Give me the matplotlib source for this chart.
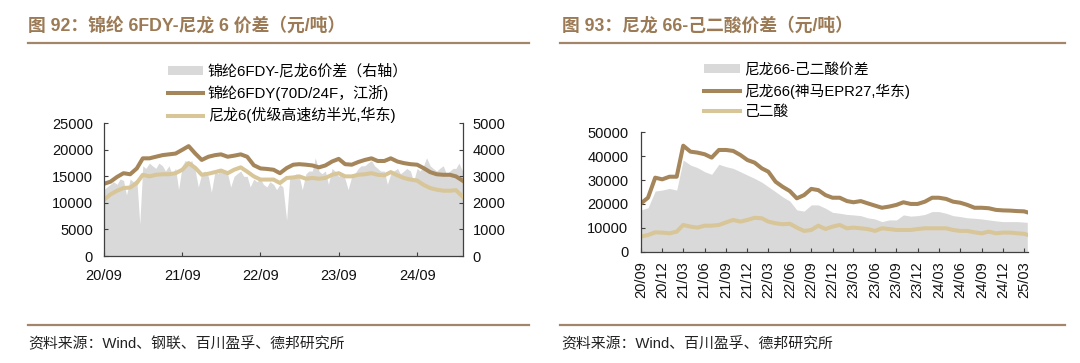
import matplotlib
matplotlib.use("Agg")
import matplotlib.pyplot as plt
import matplotlib.dates as mdates
from matplotlib.lines import Line2D
from matplotlib.patches import Patch
import pandas as pd

plt.rcParams['font.family'] = ['Liberation Sans', 'Noto Sans CJK SC']
plt.rcParams['axes.unicode_minus'] = False

# ---------------- data: left chart (monthly from 2020-09) ----------------
left_dates = pd.date_range('2020-09-01', periods=56, freq='MS')
fdy6 = [13600, 14000, 14900, 15600, 15400, 16500, 18400, 18400, 18700, 19000,
        19150, 19300, 20000, 20700, 19300, 18100, 18700, 19000, 19150, 18700,
        18900, 19150, 18700, 17100, 16500, 16400, 16250, 15600, 16560, 17200,
        17300, 17200, 17060, 16700, 17060, 17800, 18300, 17300, 17200, 17700,
        18100, 18400, 17900, 17900, 18400, 17800, 17500, 17300, 17200, 16560,
        15800, 15400, 15300, 15300, 15000, 14200]
nylon6 = [10600, 11600, 12300, 12800, 12900, 13750, 15300, 15000, 15300, 15400,
          15400, 15600, 16250, 17500, 16600, 15300, 15500, 15800, 16100, 15600,
          16250, 16700, 15900, 15000, 14400, 14400, 14400, 13750, 14700, 14800,
          15000, 14560, 14700, 14560, 14700, 15300, 15600, 15000, 15000, 15300,
          15400, 15600, 15300, 15200, 15800, 15200, 14700, 14400, 14200, 13400,
          12800, 12500, 12300, 12300, 12400, 11200]
# spread (right axis), semi-monthly
spread_dates = pd.date_range('2020-09-01', periods=112, freq='SMS')
spread6 = [2500, 2600, 2700, 2800, 2700, 2900, 2850, 2300, 2900, 2800,
           2900, 1200, 3400, 3300, 3500, 3400, 3300, 3500, 3400, 3200,
           3400, 3100, 3300, 2500, 3400, 3600, 3500, 3600, 3200, 2600,
           3100, 3200, 3000, 2400, 3200, 3100, 3300, 3200, 3100, 2600,
           3000, 3100, 3200, 3000, 3000, 2600, 2900, 2800, 2900, 2700,
           2600, 2800, 2700, 2500, 2700, 2600, 1350, 2900, 3000, 3100,
           3000, 2500, 3100, 3200, 3200, 3700, 3200, 3100, 3200, 2700,
           3300, 3200, 3000, 3100, 2900, 2500, 3000, 3100, 3300, 3400,
           3400, 3500, 3600, 3400, 3300, 3200, 3200, 2700, 3100, 3200,
           3300, 3100, 3200, 3300, 3200, 2800, 3300, 3200, 3400, 3700,
           3400, 3300, 3200, 3300, 3400, 3100, 3200, 3300, 3300, 3500,
           3200, 3100]
left_xticks = ['2020-09-01', '2021-09-01', '2022-09-01', '2023-09-01', '2024-09-01']

# ---------------- data: right chart (monthly from 2020-09) ----------------
right_dates = list(pd.date_range('2020-09-01', '2025-03-01', freq='MS')) + [pd.Timestamp('2025-03-15')]
nylon66 = [20250, 22600, 31000, 30300, 31400, 31400, 44400, 41900, 41500, 40800,
           39400, 42600, 42600, 42200, 40500, 38400, 37300, 34900, 33500, 29300,
           27200, 25400, 22350, 23700, 26300, 25800, 23700, 22600, 22600, 21200,
           20700, 21200, 20250, 19300, 18400, 18900, 19600, 20700, 20000, 20000,
           20950, 22600, 22600, 22100, 20950, 20500, 19600, 18400, 18400, 18200,
           17500, 17300, 17200, 17000, 16900, 16500]
adipic = [6300, 7000, 8100, 8000, 7700, 8400, 11200, 10500, 10100, 10900,
          10900, 11200, 12300, 13300, 12600, 13300, 14200, 14000, 12600, 11900,
          11500, 11700, 10100, 8700, 9100, 10900, 9500, 10500, 11200, 9800,
          10100, 9800, 9500, 8700, 9800, 9500, 9100, 9100, 9100, 9500,
          9800, 9800, 9800, 9800, 9100, 8700, 8700, 8100, 7700, 8400,
          7700, 8000, 8000, 7700, 7500, 7100]
spread66 = [17500, 18400, 25400, 25800, 26500, 25800, 38400, 36300, 35200, 33500,
            32400, 36600, 35600, 34900, 33500, 32100, 30700, 29100, 27200, 25100,
            23000, 21200, 17500, 17000, 19600, 19600, 18200, 16500, 16100, 15600,
            15400, 15100, 14200, 13700, 12600, 13300, 13300, 15400, 14900, 15100,
            15600, 16800, 16800, 16100, 15100, 14700, 14200, 14000, 13700, 13300,
            12900, 12600, 12600, 12600, 12400, 12300]

# ---------------- texts ----------------
title_left = '图 92：锦纶 6FDY-尼龙 6 价差（元/吨）'
title_right = '图 93：尼龙 66-己二酸价差（元/吨）'
leg_left = ['锦纶6FDY-尼龙6价差（右轴）', '锦纶6FDY(70D/24F，江浙)', '尼龙6(优级高速纺半光,华东)']
leg_right = ['尼龙66-己二酸价差', '尼龙66(神马EPR27,华东)', '己二酸']
src_left = '资料来源：Wind、钢联、百川盈孚、德邦研究所'
src_right = '资料来源：Wind、百川盈孚、德邦研究所'

# ---------------- style ----------------
C_DARK = '#a5855a'
C_LIGHT = '#d8c698'
C_GRAY = '#d9d9d9'
C_TITLE = '#9b7a55'
C_RULE = '#a3866a'
C_TXT = '#111111'
LW = 2.9

W, H = 1080, 363
fig = plt.figure(figsize=(W / 100, H / 100), dpi=100)

def fx(px):
    return px / W

def fy(py):
    return 1 - py / H

# titles, rules, sources
for x0, x1, xt, title, src in [(27.7, 529, 28.5, title_left, src_left),
                               (560, 1065, 562, title_right, src_right)]:
    fig.text(fx(xt), fy(26), title, fontsize=12.8, fontweight='bold', color=C_TITLE,
             va='center', ha='left')
    fig.add_artist(Line2D([fx(x0), fx(x1)], [fy(42.5), fy(42.5)], color=C_RULE, lw=1.6))
    fig.add_artist(Line2D([fx(x0), fx(x1)], [fy(324.5), fy(324.5)], color=C_RULE, lw=1.6))
    fig.text(fx(x0 + 0.8), fy(344), src, fontsize=10.7, color='#222222', va='center', ha='left')

# ---------------- left chart ----------------
axl = fig.add_axes([fx(104), fy(256), fx(463 - 104), (256 - 123.3) / H])
axr = axl.twinx()
axr.fill_between(spread_dates, 0, spread6, color=C_GRAY, lw=0)
axl.plot(left_dates, fdy6, color=C_DARK, lw=LW, solid_joinstyle='round')
axl.plot(left_dates, nylon6, color=C_LIGHT, lw=LW, solid_joinstyle='round')
axl.set_zorder(axr.get_zorder() + 1)
axl.patch.set_visible(False)

axl.set_ylim(0, 25000)
axl.set_yticks(range(0, 25001, 5000))
axr.set_ylim(0, 5000)
axr.set_yticks(range(0, 5001, 1000))
axl.set_xlim(pd.Timestamp('2020-09-01'), pd.Timestamp('2025-04-03'))
axl.set_xticks(pd.to_datetime(left_xticks))
axl.xaxis.set_major_formatter(mdates.DateFormatter('%y/%m'))

for a in (axl, axr):
    a.spines['top'].set_visible(False)
    for s in a.spines.values():
        s.set_color('#404040')
        s.set_linewidth(0.9)
axl.spines['right'].set_visible(False)
axr.spines['left'].set_visible(False)
axr.spines['bottom'].set_visible(False)
axl.tick_params(axis='y', direction='in', length=3, width=0.8, labelsize=10.5,
                pad=8, colors='#404040', labelcolor=C_TXT)
axl.tick_params(axis='x', direction='in', length=3, width=0.8, labelsize=10.5,
                pad=9, colors='#404040', labelcolor=C_TXT)
axr.tick_params(axis='y', direction='in', length=3, width=0.8, labelsize=10.5,
                pad=7, colors='#404040', labelcolor=C_TXT)

handles_l = [Patch(facecolor=C_GRAY, edgecolor='none'),
             Line2D([], [], color=C_DARK, lw=LW),
             Line2D([], [], color=C_LIGHT, lw=LW)]
fig.legend(handles_l, leg_left, loc='upper left', bbox_to_anchor=(fx(168), fy(64)),
           frameon=False, fontsize=10.8, handlelength=2.35, handleheight=0.55,
           handletextpad=0.3, labelspacing=0.42, borderpad=0, borderaxespad=0)

# ---------------- right chart ----------------
ax2 = fig.add_axes([fx(641), fy(251.7), fx(1027.5 - 641), (251.7 - 132.3) / H])
ax2.fill_between(right_dates, 0, spread66, color=C_GRAY, lw=0)
ax2.plot(right_dates, nylon66, color=C_DARK, lw=LW, solid_joinstyle='round')
ax2.plot(right_dates, adipic, color=C_LIGHT, lw=LW, solid_joinstyle='round')
ax2.set_ylim(0, 50000)
ax2.set_yticks(range(0, 50001, 10000))
ax2.set_xlim(pd.Timestamp('2020-09-01'), pd.Timestamp('2025-03-16'))
ax2.xaxis.set_major_locator(mdates.MonthLocator(bymonth=[3, 6, 9, 12]))
ax2.xaxis.set_major_formatter(mdates.DateFormatter('%y/%m'))
for s in ('top', 'right'):
    ax2.spines[s].set_visible(False)
for s in ('left', 'bottom'):
    ax2.spines[s].set_color('#404040')
    ax2.spines[s].set_linewidth(0.9)
ax2.tick_params(axis='y', direction='in', length=3, width=0.8, labelsize=10.5,
                pad=9, colors='#404040', labelcolor=C_TXT)
ax2.tick_params(axis='x', direction='in', length=3, width=0.8, labelsize=10.5,
                pad=7, colors='#404040', labelcolor=C_TXT, labelrotation=90)

handles_r = [Patch(facecolor=C_GRAY, edgecolor='none'),
             Line2D([], [], color=C_DARK, lw=LW),
             Line2D([], [], color=C_LIGHT, lw=LW)]
fig.legend(handles_r, leg_right, loc='upper left', bbox_to_anchor=(fx(704), fy(63)),
           frameon=False, fontsize=10.6, handlelength=2.45, handleheight=0.55,
           handletextpad=0.3, labelspacing=0.42, borderpad=0, borderaxespad=0)

fig.savefig('out.png', dpi=100)
